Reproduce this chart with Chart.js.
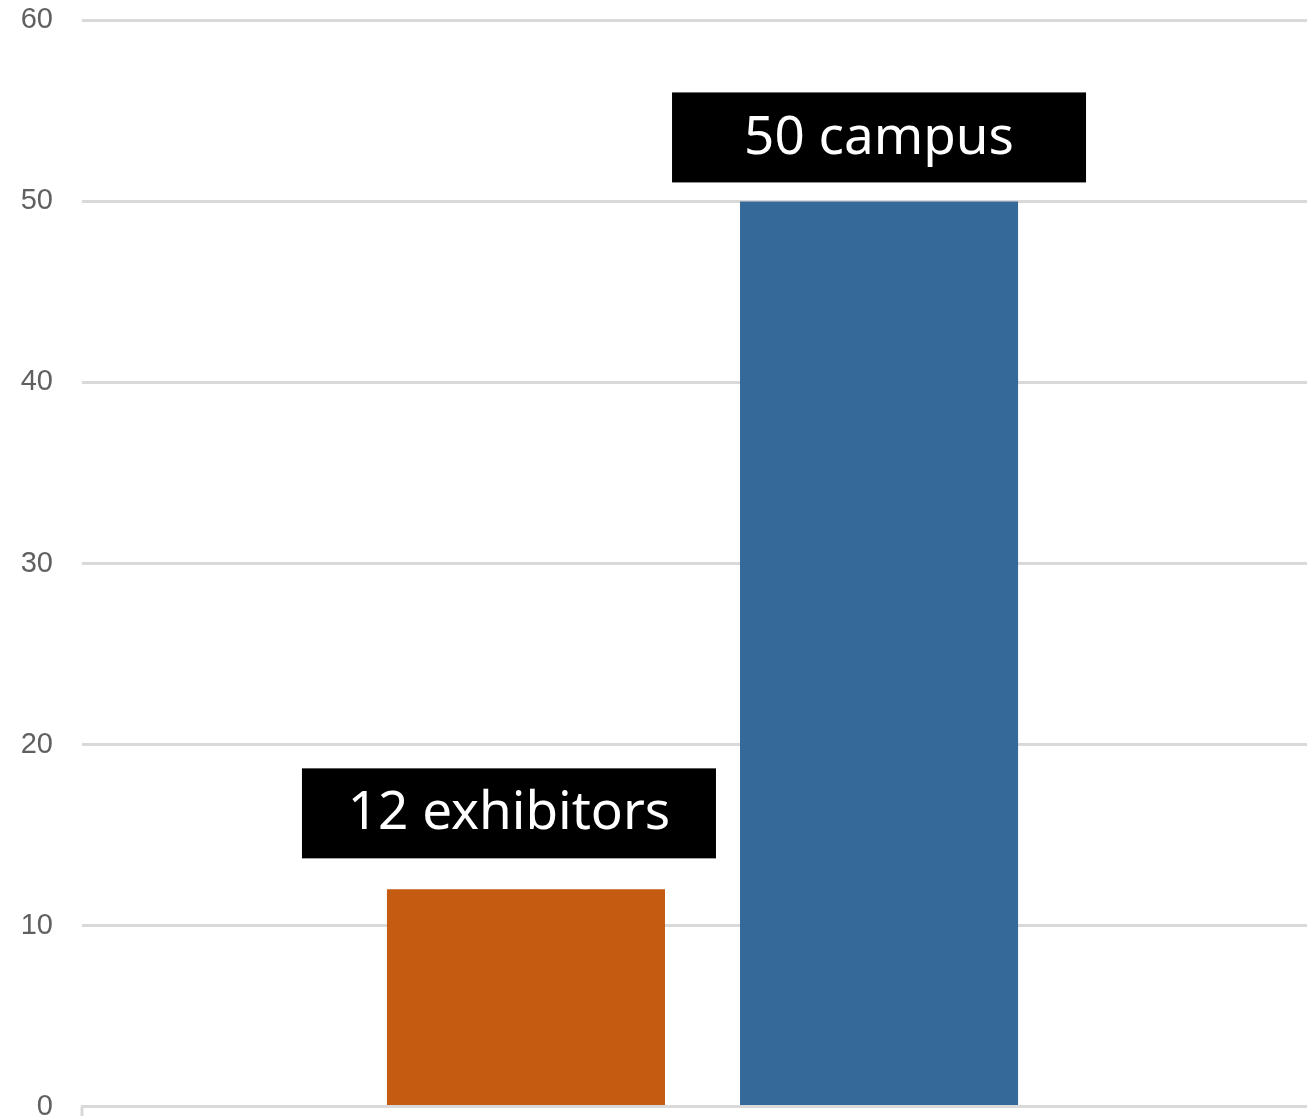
<!DOCTYPE html>
<html>
<head>
<meta charset="utf-8">
<script src="https://cdn.jsdelivr.net/npm/chart.js@4"></script>
<style>
    html, body { margin: 0; padding: 0; background: #fff; overflow: hidden; }
    #wrap { width: 1307px; height: 1116px; overflow: hidden; }
    #box { width: 1323px; height: 1179px; margin-top: -26px; }
</style>
</head>
<body>
<div id="wrap"><div id="box"><canvas id="myBarChart"></canvas></div></div>
<script>
const categories = [''];
const series_names = ['exhibitors', 'campus'];
const series_values = [12, 50];
const series_labels = ['12 exhibitors', '50 campus'];
const y_ticks = [0, 10, 20, 30, 40, 50, 60];

const bar_colors = ['#C55A11', '#35699A'];

// black label boxes above each bar
const boxLabels = {
    id: 'boxLabels',
    afterDatasetsDraw(chart, args, opts) {
        const ctx = chart.ctx;
        ctx.save();
        chart.data.datasets.forEach((ds, i) => {
            const bar = chart.getDatasetMeta(i).data[0];
            const cx = bar.x + opts.dx[i];
            const bottom = bar.y - opts.gap[i];
            ctx.fillStyle = '#000';
            ctx.fillRect(cx - opts.w / 2, bottom - opts.h, opts.w, opts.h);
            ctx.fillStyle = '#fff';
            ctx.font = opts.font;
            ctx.textAlign = 'center';
            ctx.textBaseline = 'middle';
            ctx.fillText(series_labels[i], cx, bottom - opts.h / 2 + 1);
        });
        // small tick under the left end of the axis
        const area = chart.chartArea;
        ctx.fillStyle = '#d9d9d9';
        ctx.fillRect(area.left - 1.5, area.bottom, 3, 11);
        ctx.restore();
    }
};

window.onload = () => {
    const ctx = document.getElementById('myBarChart').getContext('2d');
    window.myBarChart = new Chart(ctx, {
        type: 'bar',
        data: {
            labels: categories,
            datasets: series_values.map((v, i) => ({
                label: series_names[i],
                data: [v],
                backgroundColor: bar_colors[i],
                borderWidth: 0,
                categoryPercentage: 0.569,
                barPercentage: 0.7875
            }))
        },
        plugins: [boxLabels],
        options: {
            responsive: true,
            maintainAspectRatio: false,
            animation: false,
            layout: { padding: 0 },
            plugins: {
                legend: { display: false },
                tooltip: { enabled: false },
                boxLabels: {
                    w: 414,
                    h: 90,
                    dx: [-17, 0],
                    gap: [31, 19],
                    font: '53px "Noto Sans"'
                }
            },
            scales: {
                x: {
                    ticks: { display: false },
                    grid: { display: false },
                    border: { color: '#d9d9d9', width: 3 }
                },
                y: {
                    min: 0,
                    max: 60,
                    afterBuildTicks: (scale) => {
                        scale.ticks = y_ticks.map(v => ({ value: v }));
                    },
                    afterFit: (scale) => { scale.width = 82; },
                    ticks: {
                        color: '#606060',
                        padding: 29,
                        font: { family: 'Liberation Sans', size: 29 }
                    },
                    grid: {
                        color: '#d9d9d9',
                        lineWidth: 3,
                        drawTicks: false
                    },
                    border: { display: false }
                }
            }
        }
    });
}
</script>
</body>
</html>
